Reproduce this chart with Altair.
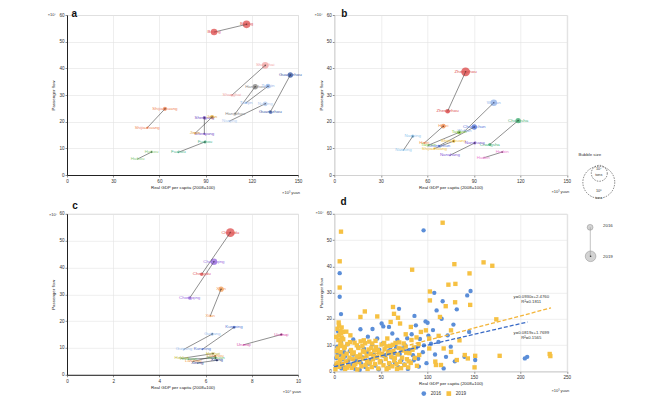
import altair as alt
import pandas as pd

FONT = "Liberation Sans"
YTICKS = [0, 10, 20, 30, 40, 50, 60]

# ---------------- Panel a ----------------
a_city = ["Beijing", "Shanghai", "Hangzhou", "Tianjin", "Nanjing", "Guangzhou",
          "Shijiazhuang", "Haikou", "Fuzhou", "Shenyang", "Jinan"]
a_x16 = [95.5, 107.0, 109.2, 116.3, 105.5, 132.0, 52.1, 45.8, 72.3, 89.2, 83.1]
a_y16 = [53.6, 29.9, 23.0, 27.1, 20.2, 23.6, 17.7, 6.0, 8.5, 15.4, 15.6]
a_x19 = [116.6, 128.7, 122.2, 130.5, 128.7, 145.0, 63.6, 54.9, 89.6, 89.2, 94.2]
a_y19 = [56.5, 41.1, 33.1, 33.3, 26.7, 37.5, 24.8, 8.6, 12.4, 21.5, 21.7]
a_s16 = [4.3, 0.6, 0.5, 0.5, 0.3, 1.2, 0.5, 0.2, 0.3, 0.5, 0.5]
a_s19 = [5.8, 4.3, 2.8, 2.2, 2.2, 2.8, 1.7, 0.5, 0.9, 1.2, 1.7]
a_col = ["#e05555", "#f2a9a9", "#8a8a8a", "#93b6e8", "#b4cdf0", "#3d5ca8",
         "#f0875a", "#8ccc7e", "#4fb890", "#7650c6", "#e4ac3c"]

# ---------------- Panel b ----------------
b_city = ["Zhengzhou", "Wuhan", "Changsha", "Hefei", "Taiyuan", "Shijiazhuang",
          "Changchun", "Nanchang", "Harbin", "Nanning"]
b_x16 = [73.1, 84.0, 100.3, 58.1, 60.8, 64.5, 67.5, 74.6, 96.1, 44.6]
b_y16 = [23.9, 16.4, 11.4, 12.0, 11.2, 9.9, 10.9, 7.4, 6.4, 9.3]
b_x19 = [84.7, 102.9, 118.6, 70.3, 80.6, 77.0, 90.3, 90.6, 108.3, 50.6]
b_y19 = [38.7, 27.1, 20.4, 18.3, 16.0, 12.7, 18.0, 12.0, 8.6, 14.5]
b_s16 = [2.2, 0.5, 0.9, 0.5, 0.5, 0.5, 0.5, 0.3, 0.15, 0.3]
b_s19 = [7.8, 4.3, 2.8, 2.2, 1.7, 1.2, 2.8, 0.9, 0.3, 1.2]
b_col = ["#dd4f4f", "#94b4ea", "#45b075", "#f39257", "#8ccb45", "#efc445",
         "#5677da", "#8660d6", "#ec7fd3", "#95c9ee"]

# ---------------- Panel c ----------------
c_city = ["Chengdu", "Chongqing", "Xi'an", "Kunming", "Guiyang", "Urumqi",
          "Hohhot", "Lanzhou", "Yinchuan", "Xining"]
c_x16 = [5.83, 5.31, 6.20, 5.86, 5.06, 7.65, 4.96, 5.47, 5.24, 5.64]
c_y16 = [37.5, 28.6, 21.9, 9.5, 9.5, 11.2, 6.1, 5.0, 5.8, 4.4]
c_x19 = [7.07, 6.36, 6.67, 7.23, 6.29, 9.28, 6.32, 6.42, 6.43, 6.49]
c_y19 = [53.0, 42.1, 31.9, 17.7, 15.2, 15.0, 7.9, 7.0, 6.3, 5.4]
c_s16 = [1.2, 1.2, 0.5, 0.3, 0.3, 0.3, 0.15, 0.15, 0.15, 0.15]
c_s19 = [7.8, 4.3, 2.8, 0.9, 0.9, 0.7, 0.5, 0.5, 0.5, 0.5]
c_col = ["#e05555", "#9a6ee0", "#f4a05c", "#5577d4", "#9dc0ee", "#d64fab",
         "#c9be45", "#f09a45", "#5db566", "#2d3f8e"]

# ---------------- Panel d ----------------
d_x16 = [96, 5.8, 5.8, 7.2, 7.2, 146.5, 142.9, 107.5, 116.5, 110, 131.7, 98.1, 100.3, 69.6,
         86.2, 87.7, 115.4, 128.1, 145, 121.9, 50.9, 28.1, 41.1, 52.7, 58.8, 46.2, 62.4, 67.8,
         75.8, 120.1, 140, 151.5, 204.9, 207.4, 117.6, 90.9, 104, 112, 80.5, 95.2, 85.4, 99.1,
         108.3, 129.6, 125.2, 60.3, 55.1, 70.4, 65.2, 48.3, 40.6, 35.2, 30.4, 25.7, 20.3, 15.1,
         10.6, 5.2, 3.1, 2.2, 8.4, 12.3, 18.2, 22.5, 28.6, 33.4, 38.2, 44.1, 50.3, 57.2, 62.1,
         75.3, 78.4, 83.2, 36.1, 20.4, 14.2, 4.1, 6.3, 9.2, 45.3, 52.1, 58.4, 66.2, 72.1, 88.3,
         92.1, 101.2, 106.1,
         1.5, 3.6, 7.7, 11.4, 16.6, 23.4, 27.3, 31.9, 37.1, 42.5, 47.8, 53.3, 59.6, 64.7, 68.9,
         73.5, 79.1, 84.6, 90.2, 96.4]
d_y16 = [53.7, 37.4, 28.4, 21.8, 11.2, 30.6, 28.9, 29.9, 26.7, 23.2, 23.6, 19, 18.5, 23.8,
         21.1, 17.5, 20, 17.8, 15, 13.7, 18.2, 16, 16.1, 17.1, 16.9, 12.5, 14.4, 12,
         10, 5.5, 5.5, 4.3, 4.9, 5.5, 1.1, 1.8, 10.5, 11.2, 8.1, 7.3, 4.2, 3.1,
         6.4, 3.8, 9.4, 9.1, 6.2, 6.6, 3.3, 8.2, 10.2, 7.1, 5.3, 9.2, 6.4, 4.1,
         7.3, 3.2, 9.4, 5.1, 2.2, 1.4, 2.6, 0.9, 3.1, 1.6, 4.3, 2.2, 3.6, 1.2, 5.3,
         2.6, 12.6, 14.1, 13.2, 12.1, 10.3, 15.2, 6.1, 4.6, 5.2, 10.6, 7.7, 9.3, 4.2, 9.1,
         12.3, 13.6, 15.7,
         2.3, 6.8, 1.1, 5.6, 7.7, 4.1, 0.6, 8.6, 2.9, 6.3, 0.8, 5.9, 2.8, 6.9, 1.6,
         8.7, 0.9, 6.1, 4.8, 9.9]
d_x19 = [116.5, 7.2, 5.8, 5.8, 83.7, 129.1, 160.5, 169.9, 145.4, 122.7, 130.2, 102.8, 129.9,
         146.1, 102.8, 119.8, 113.6, 32.8, 63.1, 174.2, 6.5, 9.4, 76.8, 88.4, 98.5, 140.3,
         151.5, 177.8, 231.6, 232.3, 150.8, 109.3, 68.5, 64.2, 70.7, 46.2, 28.1, 60.6, 82.3,
         93.1, 102.1, 112.2, 125.5, 134.6, 117.6, 125.5, 102.1, 108.6, 91.3, 114.7, 131.7,
         143.6, 1.2, 2.5, 3.1, 3.8, 4.4, 4.9, 5.5, 6.2, 6.8, 7.5, 8.3, 9.1, 9.8, 10.7, 11.6,
         12.4, 13.3, 14.1, 15.2, 16.3, 17.3, 17.9, 18.8, 19.7, 20.9, 21.8, 22.6, 23.9, 24.8,
         25.9, 26.7, 27.8, 29.1, 30.2, 31.7, 31.1, 32.4, 33.6, 34.7, 35.8, 36.9, 38.2, 39.1,
         40.8, 40.3, 41.6, 42.8, 43.7, 44.9, 46.1, 47.3, 48.2, 49.6, 50.8, 51.7, 52.9, 54.1,
         55.3, 56.2, 57.0, 57.8, 58.9, 60.1, 61.2, 62.3, 63.5, 64.4, 65.8, 66.9, 68.1, 69.2,
         70.6, 71.8, 72.9, 74.1, 75.6, 76.8, 78.1, 79.5, 80.8, 82.2, 84.1, 86.5, 88.9, 90.7,
         3.4, 5.1, 7.9, 2.1, 6.1,
         2.8, 4.1, 6.6, 8.9, 11.2, 13.8, 16.9, 19.2, 21.3, 24.2, 26.1, 28.3, 30.8, 33.1, 35.2,
         37.6, 39.8, 42.1, 44.3, 46.8, 48.9, 51.2, 53.6, 55.9, 58.3, 60.7, 62.9, 65.1, 67.4,
         69.8, 72.2, 74.6, 77.3, 79.9, 83.0, 85.6, 7.3, 4.7, 9.6, 12.9]
d_y19 = [56.6, 53.2, 41.9, 31.9, 38.7, 40.8, 41.5, 40.2, 37.3, 33, 33.3, 30.4, 26.3,
         25.3, 27, 24.8, 20.7, 22.8, 24.5, 19.8, 15.3, 15, 14.1, 12.9, 15.6, 6.2,
         5.9, 5.9, 6.6, 5.8, 1.5, 2.4, 20.4, 21.9, 18.2, 20.9, 20.7, 18.8, 16.9,
         15, 12.5, 13.5, 15.6, 11.8, 8.7, 7.4, 8.7, 3.7, 6.2, 2.4, 4.3,
         4.9, 0.8, 2.9, 5.6, 8.7, 11.9, 13.6, 1.7, 4.4, 7.3, 10.1, 12.8, 2.6, 5.9, 8.8, 0.9,
         3.8, 6.7, 10.4, 2.1, 5.2, 13.7, 8.1, 1.3, 4.6, 7.2, 10.9, 2.8, 5.7, 0.7,
         8.9, 3.5, 6.3, 1.9, 9.6, 11.8, 4.8, 7.4, 2.4, 5.9, 0.9, 8.3, 3.3, 6.6,
         10.6, 1.6, 4.5, 7.9, 2.7, 9.2, 5.4, 1.1, 7.1, 3.9, 10.2, 6.1, 2.3, 8.4,
         4.7, 0.8, 12.5, 6.8, 3.1, 9.7, 5.6, 1.9, 7.6, 4.1, 10.8, 2.7, 6.4, 8.9,
         3.6, 1.2, 5.2, 7.9, 2.4, 9.4, 4.6, 1.5, 6.9, 3.2, 8.2, 5.1, 2.1, 10.3,
         16.2, 17.4, 16.7, 13.1, 9.6,
         7.7, 3.3, 11.2, 5.1, 9.3, 1.4, 11.1, 6.8, 2.2, 9.9, 5.3, 11.4, 7.8, 10.7, 3.9,
         11.3, 8.9, 5.9, 11.6, 8.0, 3.4, 6.5, 10.8, 9.5, 1.3, 7.2, 10.1, 5.1, 0.9,
         11.0, 8.3, 10.6, 7.1, 3.8, 11.9, 9.1, 14.4, 18.6, 12.2, 15.1]
YEARS = ["2016", "2019"]
REG_SLOPE = [0.0819, 0.0930]
REG_ICPT = [1.7699, 2.4760]
REG_XMAX = [207.8, 233.0]
REG_TEXT = [["y=0.0819x+1.7699", "R²=0.1565"], ["y=0.0930x+2.4760", "R²=0.1811"]]

ONE = pd.DataFrame({"k": [0]})


def txt(s, x, y, size=4.2, color="#333333", align="center", baseline="middle", weight="normal"):
    return alt.Chart(ONE).mark_text(text=s, font=FONT, fontSize=size, color=color, align=align,
                                    baseline=baseline, fontWeight=weight).encode(
        x=alt.value(x), y=alt.value(y))


def axes(xticks, dark):
    dcol = "#222222" if dark else "#c8c8c8"
    dw = 1.0 if dark else 0.6
    com = dict(labelFont=FONT, titleFont=FONT, labelFontSize=4.6, titleFontSize=4.4,
               labelColor="#333333", titleColor="#222222", titleFontWeight="normal",
               tickColor="#444444", tickSize=2, tickWidth=0.6,
               gridColor="#e3e3e3", gridWidth=0.6,
               domainColor=dcol, domainWidth=dw, labelOverlap=False)
    xa = alt.Axis(values=xticks, title="Real GDP per capita (2008=100)", labelPadding=1.5,
                  titlePadding=2.5, labelFlush=False, **com)
    ya = alt.Axis(values=YTICKS, title="Passenger flow", labelPadding=1, titlePadding=3, **com)
    return xa, ya


def frame_decos(letter, lpos, unit, upos, ypos, anchor):
    out = []
    base = "top" if lpos[2] == "top" else "alphabetic"
    out.append(txt(letter, lpos[0], lpos[1], size=10, color="#111111", align="left",
                   baseline=base, weight="bold"))
    out.append(txt("×10⁷", ypos[0], ypos[1], size=4.0))
    out.append(txt(unit, upos[0], upos[1], size=4.0, align="right"))
    if anchor:
        out.append(alt.Chart(ONE).mark_rule(color="white", strokeWidth=0.2).encode(
            x=alt.value(-57.7), x2=alt.value(-57.6), y=alt.value(-5.7), y2=alt.value(-5.6)))
    return out


def bubble_panel(city, colors, x16, y16, s16, x19, y19, s19, xmax, xticks, dark):
    pts = pd.DataFrame({"city": city + city,
                        "year": ["2016"] * len(city) + ["2019"] * len(city),
                        "x": x16 + x19, "y": y16 + y19, "s": s16 + s19})
    seg = pd.DataFrame({"city": city, "x16": x16, "y16": y16, "x19": x19, "y19": y19})
    xa, ya = axes(xticks, dark)
    xs = alt.Scale(domain=[0, xmax], nice=False)
    ys = alt.Scale(domain=[0, 60], nice=False)
    cs = alt.Scale(domain=city, range=colors)
    ss = alt.Scale(domain=[0, 10], range=[0, 100])

    def X(f):
        return alt.X(f, type="quantitative", scale=xs, axis=xa)

    def Y(f):
        return alt.Y(f, type="quantitative", scale=ys, axis=ya)

    bub = alt.Chart(pts).mark_circle(opacity=0.8).encode(
        x=X("x"), y=Y("y"),
        size=alt.Size("s:Q", scale=ss, legend=None),
        color=alt.Color("city:N", scale=cs, legend=None))
    lines = alt.Chart(seg).mark_rule(color="#333333", strokeWidth=0.55).encode(
        x=X("x16"), y=Y("y16"), x2="x19", y2="y19")
    heads = alt.Chart(seg).mark_circle(color="#2a2a2a", size=2.5, opacity=1).encode(
        x=X("x19"), y=Y("y19"))
    labs = alt.Chart(pts).transform_calculate(
        off="sqrt(datum.s*10/PI)+4.3").mark_text(font=FONT, fontSize=4.4, baseline="middle").encode(
        x=X("x"), y=Y("y"), yOffset=alt.YOffset("off:Q", scale=None), text="city:N",
        color=alt.Color("city:N", scale=cs, legend=None))
    return [bub, lines, heads, labs]


W1, W2 = 231, 232.5

pa = alt.layer(*bubble_panel(a_city, a_col, a_x16, a_y16, a_s16, a_x19, a_y19, a_s19,
                             150, [0, 30, 60, 90, 120, 150], True),
               *frame_decos("a", (4.5, -5.7, "top"), "×10³ yuan", (233, 177.5), (-15.2, 0.3), True)
               ).properties(width=W1, height=160)


def ring(x, y, area):
    return alt.Chart(ONE).mark_point(shape="circle", filled=False, size=area, color="#333333",
                                     strokeWidth=0.6, strokeDash=[1.5, 1.2], opacity=1).encode(
        x=alt.value(x), y=alt.value(y))


# bubble size key, drawn to the right of panel b
bl = [
    txt("Bubble size", 255.5, 140.3, size=4.4),
    ring(264.5, 167.3, 1018), ring(265, 158.3, 254),
    txt("10⁷", 264.5, 154, size=3.8), txt("tons", 264.5, 159.6, size=3.8),
    txt("10⁸", 264.5, 176.3, size=3.8), txt("tons", 264.5, 183, size=3.8),
    alt.Chart(ONE).mark_circle(size=34, color="#d3d3d3", stroke="#8a8a8a", strokeWidth=0.5,
                               opacity=1).encode(x=alt.value(255.8), y=alt.value(212.3)),
    alt.Chart(ONE).mark_circle(size=113, color="#d3d3d3", stroke="#8a8a8a", strokeWidth=0.5,
                               opacity=1).encode(x=alt.value(256.3), y=alt.value(241.3)),
    alt.Chart(ONE).mark_rule(color="#9a9a9a", strokeWidth=0.6).encode(
        x=alt.value(256), y=alt.value(212.3), y2=alt.value(241.3)),
    alt.Chart(ONE).mark_circle(size=2.5, color="#333333", opacity=1).encode(
        x=alt.value(256.3), y=alt.value(241.3)),
    txt("2016", 268.7, 210.6, size=4.4, align="left"),
    txt("2019", 268.7, 242.3, size=4.4, align="left"),
]

pb = alt.layer(*bubble_panel(b_city, b_col, b_x16, b_y16, b_s16, b_x19, b_y19, b_s19,
                             150, [0, 30, 60, 90, 120, 150], False),
               *frame_decos("b", (7, -5.7, "top"), "×10³ yuan", (235, 177.3), (-15.7, 0.3), False),
               *bl).properties(width=W2, height=160)

pc = alt.layer(*bubble_panel(c_city, c_col, c_x16, c_y16, c_s16, c_x19, c_y19, c_s19,
                             10, [0, 2, 4, 6, 8, 10], True),
               *frame_decos("c", (5.3, -5.2, "alpha"), "×10⁴ yuan", (234, 178.5), (-14, 1.5), False)
               ).properties(width=W1, height=161)

# ---- panel d ----
xa_d, ya_d = axes([0, 50, 100, 150, 200, 250], False)
xs_d = alt.Scale(domain=[0, 250], nice=False)
ys_d = alt.Scale(domain=[0, 60], nice=False)
dpts = pd.DataFrame({"year": ["2016"] * len(d_x16) + ["2019"] * len(d_x19),
                     "x": d_x16 + d_x19, "y": d_y16 + d_y19})
leg = alt.Legend(orient="none", legendX=87, legendY=177.2, direction="horizontal", title=None,
                 labelFont=FONT, labelFontSize=4.6, labelColor="#333333", symbolSize=22,
                 symbolStrokeWidth=0, padding=0, columnPadding=5, labelOffset=4.5)
scat = alt.Chart(dpts).mark_point(filled=True, opacity=1, size=19, strokeWidth=0).encode(
    x=alt.X("x:Q", scale=xs_d, axis=xa_d), y=alt.Y("y:Q", scale=ys_d, axis=ya_d),
    color=alt.Color("year:N", scale=alt.Scale(domain=YEARS, range=["#5b8ed8", "#f6c143"]), legend=leg),
    shape=alt.Shape("year:N", scale=alt.Scale(domain=YEARS, range=["circle", "square"]), legend=leg))

reg_layers = []
LINE_COL = ["#3a6bc6", "#f3b53a"]
for i in range(2):
    rdf = pd.DataFrame({"x": [0.0, REG_XMAX[i]],
                        "y": [REG_ICPT[i], REG_SLOPE[i] * REG_XMAX[i] + REG_ICPT[i]]})
    reg_layers.append(alt.Chart(rdf).mark_line(color=LINE_COL[i], strokeWidth=1.3,
                                               strokeDash=[4, 2]).encode(
        x=alt.X("x:Q", scale=xs_d, axis=xa_d), y=alt.Y("y:Q", scale=ys_d, axis=ya_d)))

ann = [txt(REG_TEXT[1][0], 197, 83.5, size=4.3), txt(REG_TEXT[1][1], 197, 88.2, size=4.3),
       txt(REG_TEXT[0][0], 197, 119.2, size=4.3), txt(REG_TEXT[0][1], 197, 123.9, size=4.3)]

pd_ = alt.layer(scat, *reg_layers, *ann,
                *frame_decos("d", (6.3, -9.2, "alpha"), "×10³ yuan", (235, 176.8), (-14.7, -0.8), False)
                ).properties(width=W2, height=157.5)

chart = alt.concat(pa, pb, pc, pd_, columns=2, spacing={"row": 38.8, "column": 36.3},
                   bounds="flush").resolve_scale(
    color="independent", size="independent", shape="independent"
).resolve_legend(color="independent", size="independent", shape="independent").properties(
    padding={"left": 0, "top": 0, "right": 2, "bottom": 0}
).configure_view(strokeWidth=0).configure(font=FONT)

chart.save("out.html", embed_options={"renderer": "svg", "actions": False})
